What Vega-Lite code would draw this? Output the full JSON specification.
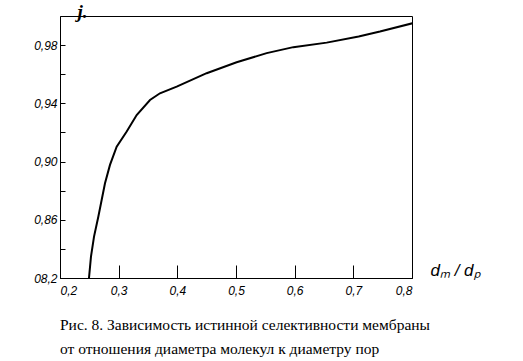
{
  "$schema": "https://vega.github.io/schema/vega-lite/v6.json",
  "width": 352,
  "height": 262,
  "autosize": "none",
  "padding": {"left": 60, "top": 16, "right": 111, "bottom": 83},
  "background": "white",
  "config": {
    "view": {"stroke": "black", "strokeWidth": 1},
    "axis": {"grid": false, "domainColor": "black", "tickColor": "black", "labelColor": "black", "labelFont": "Liberation Sans", "labelFontStyle": "italic", "labelFontSize": 12, "titleColor": "black"}
  },
  "title": {
    "text": ["Рис. 8. Зависимость истинной селективности мембраны", "от отношения диаметра молекул к диаметру пор"],
    "orient": "bottom",
    "anchor": "start",
    "frame": "group",
    "font": "Liberation Serif",
    "fontSize": 15.5,
    "fontWeight": "normal",
    "color": "black",
    "lineHeight": 24,
    "offset": 22
  },
  "data": {
    "values": [
      {"ratio": 0.2494, "sel": 0.8200},
      {"ratio": 0.2528, "sel": 0.8347},
      {"ratio": 0.2580, "sel": 0.8484},
      {"ratio": 0.2653, "sel": 0.8621},
      {"ratio": 0.2710, "sel": 0.8736},
      {"ratio": 0.2767, "sel": 0.8851},
      {"ratio": 0.2852, "sel": 0.8977},
      {"ratio": 0.2966, "sel": 0.9102},
      {"ratio": 0.3137, "sel": 0.9206},
      {"ratio": 0.3307, "sel": 0.9320},
      {"ratio": 0.3534, "sel": 0.9423},
      {"ratio": 0.3704, "sel": 0.9469},
      {"ratio": 0.3989, "sel": 0.9515},
      {"ratio": 0.4500, "sel": 0.9607},
      {"ratio": 0.5011, "sel": 0.9682},
      {"ratio": 0.5523, "sel": 0.9745},
      {"ratio": 0.5977, "sel": 0.9786},
      {"ratio": 0.6546, "sel": 0.9817},
      {"ratio": 0.7091, "sel": 0.9859},
      {"ratio": 0.7454, "sel": 0.9893},
      {"ratio": 0.8005, "sel": 0.9950}
    ]
  },
  "mark": {"type": "line", "color": "black", "strokeWidth": 2, "interpolate": "linear", "clip": true},
  "encoding": {
    "x": {
      "field": "ratio",
      "type": "quantitative",
      "scale": {"domain": [0.2, 0.8], "nice": false, "zero": false},
      "axis": {
        "values": [0.2, 0.3, 0.4, 0.5, 0.6, 0.7, 0.8],
        "tickSize": -13,
        "labelPadding": 20,
        "labelExpr": "replace(format(datum.value, '.1f'), '.', ',')",
        "title": "dₘ / dₚ",
        "titleFont": "Liberation Sans",
        "titleFontStyle": "italic",
        "titleFontWeight": "normal",
        "titleFontSize": 17,
        "titleAlign": "left",
        "titleBaseline": "alphabetic",
        "titleX": 370,
        "titleY": -3
      }
    },
    "y": {
      "field": "sel",
      "type": "quantitative",
      "scale": {"domain": [0.82, 1.0], "nice": false, "zero": false},
      "axis": {
        "values": [0.82, 0.84, 0.86, 0.88, 0.90, 0.92, 0.94, 0.96, 0.98],
        "tickSize": -5,
        "labelPadding": 8,
        "labelExpr": "round(datum.value*100) % 4 == 2 ? (round(datum.value*100) == 82 ? '08,2' : replace(format(datum.value, '.2f'), '.', ',')) : ''",
        "title": "j.",
        "titleFont": "Liberation Serif",
        "titleFontStyle": "italic",
        "titleFontWeight": "bold",
        "titleFontSize": 19,
        "titleAngle": 0,
        "titleAlign": "center",
        "titleBaseline": "alphabetic",
        "titleX": 22,
        "titleY": 1
      }
    }
  }
}
